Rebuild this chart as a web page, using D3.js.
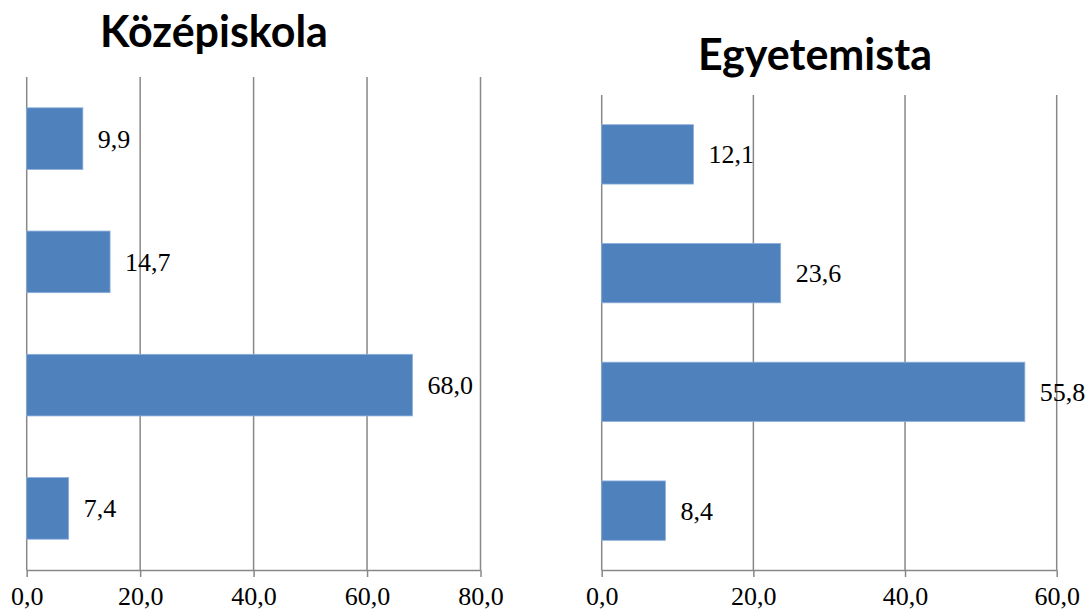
<!DOCTYPE html>
<html>
<head>
<meta charset="utf-8">
<script src="https://cdn.jsdelivr.net/npm/d3@7"></script>
<style>
  body { margin: 0; background: #fff; }
  .title { font-family: Lato, "Open Sans", sans-serif; font-weight: bold; font-size: 43px; fill: #000; }
</style>
</head>
<body>
<div id="chart"></div>
<script>
// categories (top to bottom)
var categories = ["c1", "c2", "c3", "c4"];

// series values
var kozepValues = [9.9, 14.7, 68.0, 7.4];
var egyetemValues = [12.1, 23.6, 55.8, 8.4];

// tick values
var kozepTicks = [0, 20, 40, 60, 80];
var egyetemTicks = [0, 20, 40, 60];

var svgWidth = 1091;
var svgHeight = 614;
var serifFont = "Liberation Serif, DejaVu Serif, serif";

var svg = d3.select("#chart")
  .append("svg")
  .attr("width", svgWidth)
  .attr("height", svgHeight);

var fmt = function(v) { return d3.format(".1f")(v).replace(".", ","); };

function drawPanel(opts) {
  var g = svg.append("g");

  var x = d3.scaleLinear()
    .domain([0, opts.max])
    .range([opts.left, opts.right]);

  var y = d3.scaleBand()
    .domain(categories)
    .range([opts.top, opts.bottom])
    .paddingInner(0.5)
    .paddingOuter(0.25);

  // gridlines
  g.selectAll(".grid")
    .data(opts.ticks)
    .enter().append("line")
    .attr("x1", d => x(d))
    .attr("x2", d => x(d))
    .attr("y1", opts.top)
    .attr("y2", opts.bottom)
    .attr("stroke", "#888")
    .attr("stroke-width", 1.5);

  // bars
  g.selectAll("rect")
    .data(opts.values)
    .enter().append("rect")
    .attr("x", x(0))
    .attr("y", (d, i) => y(categories[i]))
    .attr("width", d => x(d) - x(0))
    .attr("height", y.bandwidth())
    .attr("fill", "#4F81BD")
    .attr("stroke", "#8db0dc")
    .attr("stroke-width", 0.8);

  // value labels
  g.selectAll(".val")
    .data(opts.values)
    .enter().append("text")
    .attr("class", "val")
    .attr("x", d => x(d) + 15)
    .attr("y", (d, i) => y(categories[i]) + y.bandwidth() / 2 + 9)
    .attr("font-family", serifFont)
    .attr("font-size", 26)
    .attr("fill", "#000")
    .text(d => fmt(d));

  // x axis
  var axis = g.append("g")
    .attr("transform", `translate(0, ${opts.bottom})`)
    .call(d3.axisBottom(x).tickValues(opts.ticks).tickFormat(fmt).tickSize(7).tickPadding(10));
  axis.attr("font-family", serifFont).attr("font-size", 26);
  axis.selectAll("path, line").attr("stroke", "#888").attr("stroke-width", 1.5);
  axis.select(".domain").attr("d", `M${opts.left},0.5H${opts.right}`);
  axis.selectAll(".tick text").attr("fill", "#000");

  // title
  svg.append("text")
    .attr("class", "title")
    .attr("x", opts.titleX)
    .attr("y", opts.titleY)
    .attr("text-anchor", "middle")
    .text(opts.title);
}

drawPanel({
  title: "Középiskola", titleX: 214, titleY: 47,
  values: kozepValues, ticks: kozepTicks, max: 80,
  left: 26.7, right: 480.5, top: 77, bottom: 570
});

drawPanel({
  title: "Egyetemista", titleX: 815, titleY: 70,
  values: egyetemValues, ticks: egyetemTicks, max: 60,
  left: 601.7, right: 1056.7, top: 95, bottom: 570
});
</script>
</body>
</html>
